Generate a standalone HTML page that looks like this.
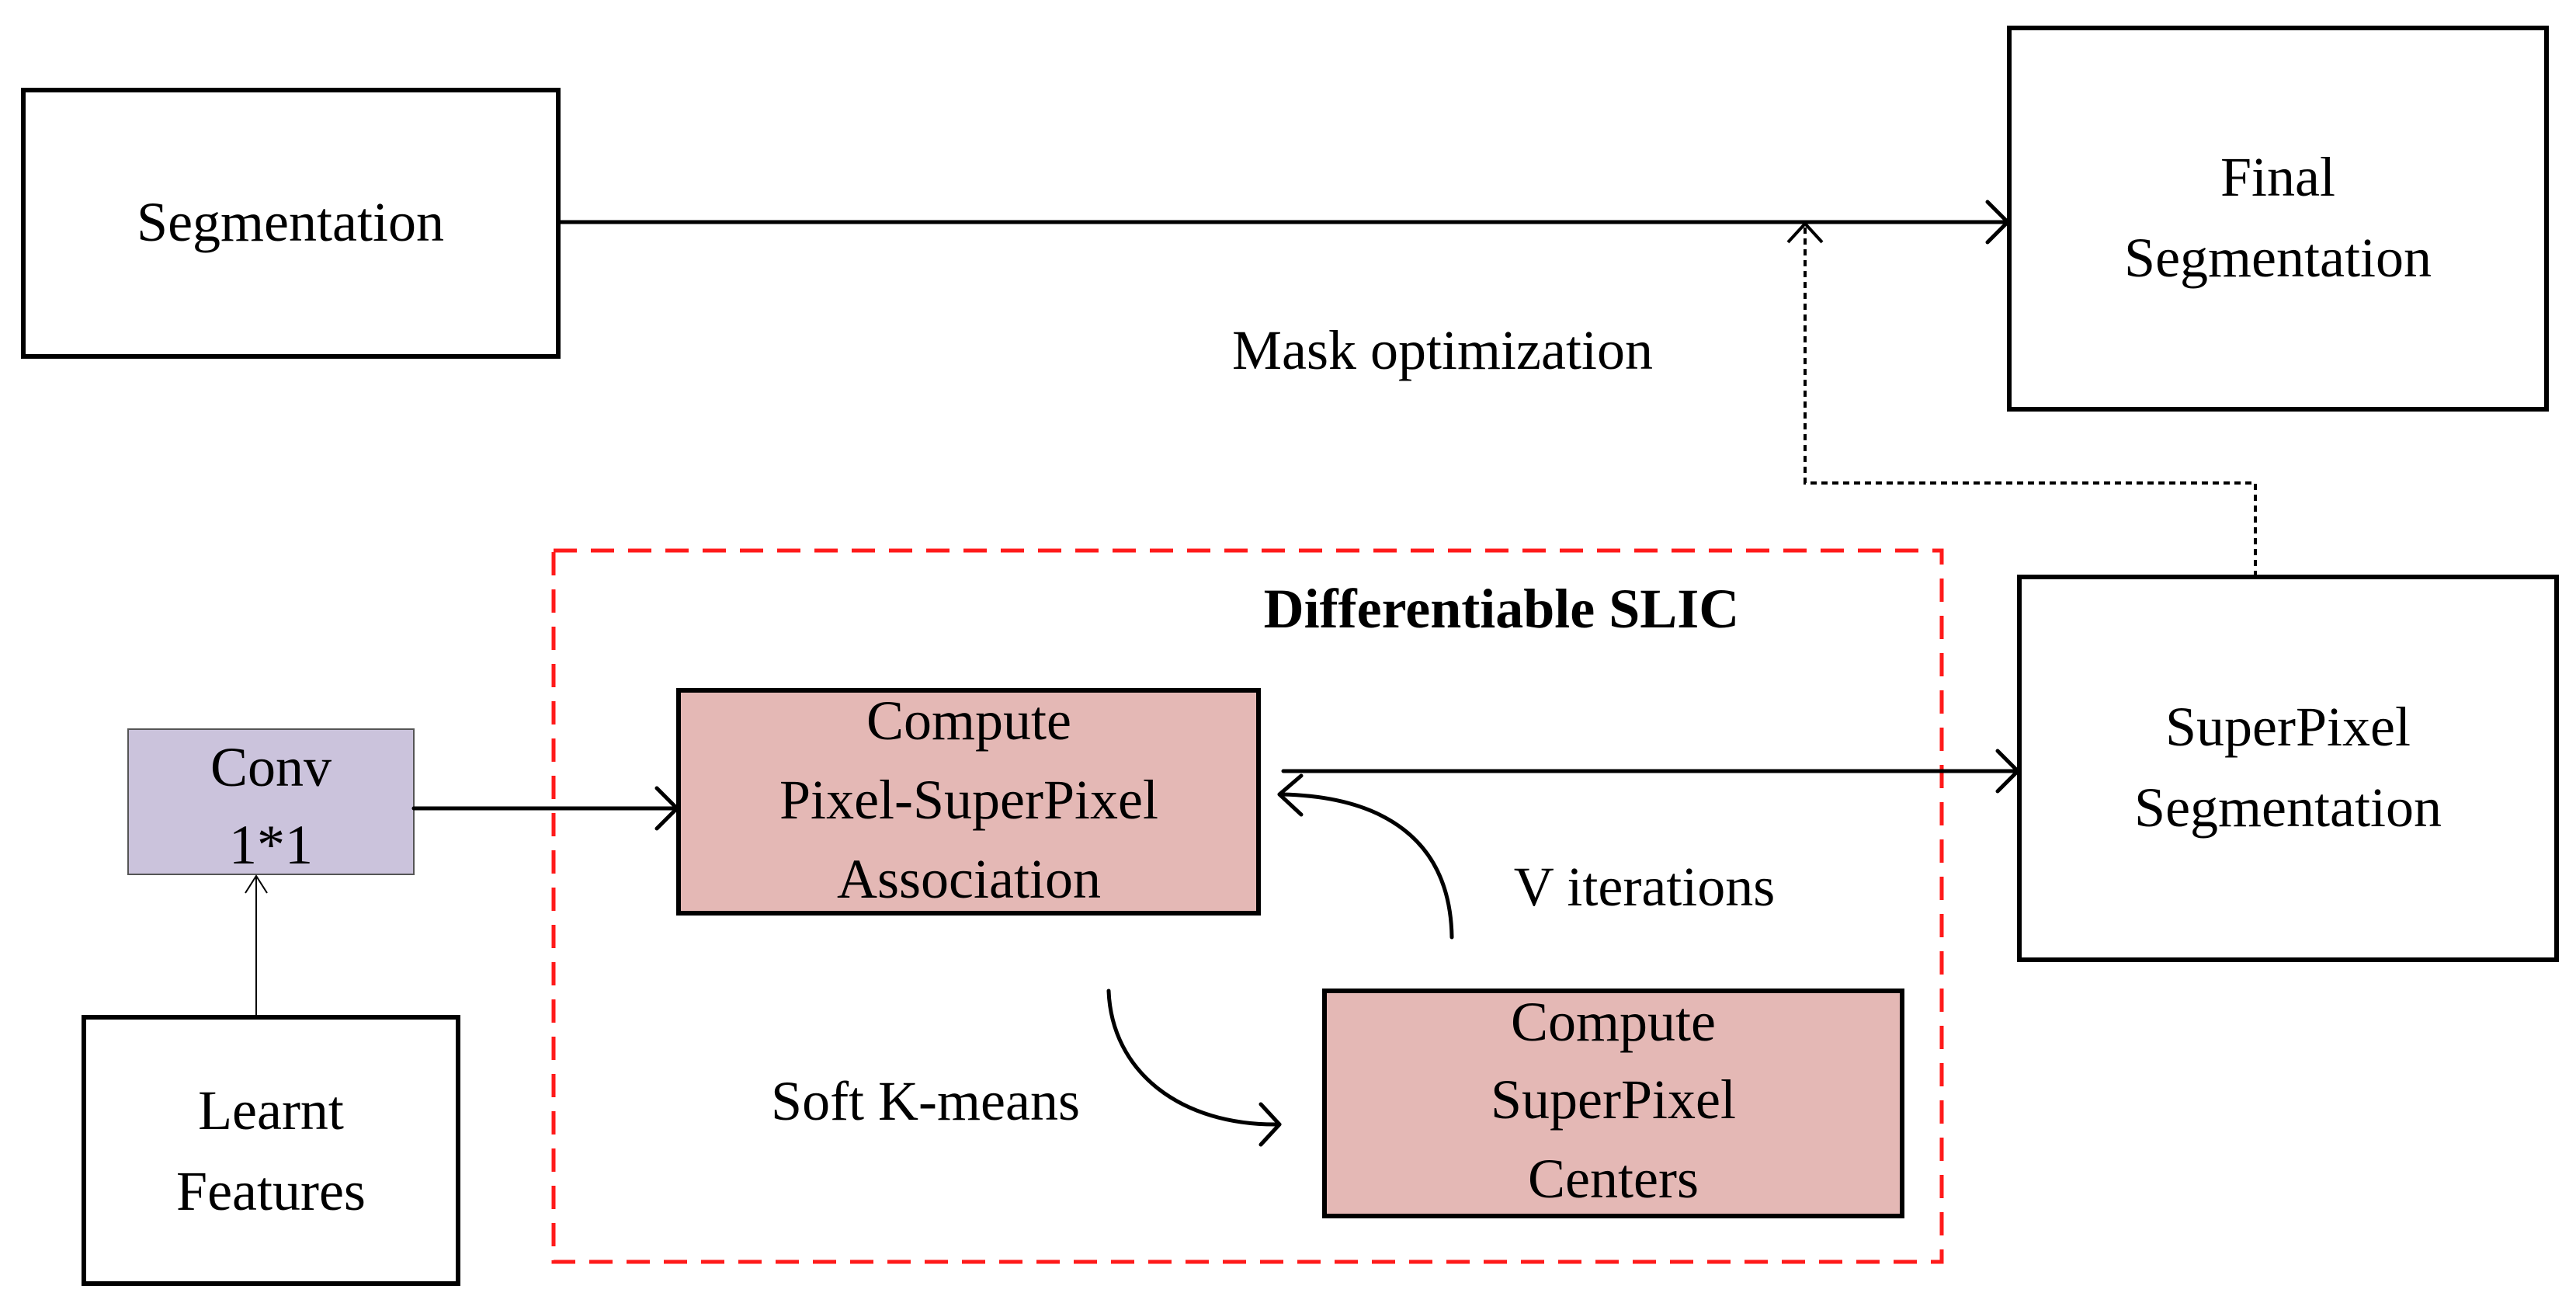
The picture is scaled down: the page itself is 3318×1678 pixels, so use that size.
<!DOCTYPE html>
<html><head><style>
html,body{margin:0;padding:0;background:#fff;}
svg{display:block;}
text{font-family:"Liberation Serif",serif;fill:#000;}
</style></head><body>
<svg width="3318" height="1678" viewBox="0 0 3318 1678" xmlns="http://www.w3.org/2000/svg">
<g stroke="#000" stroke-width="6" fill="#fff">
<rect x="30" y="116" width="689" height="343"/>
<rect x="2588" y="36" width="692" height="491"/>
<rect x="2601" y="743" width="692" height="493"/>
<rect x="108" y="1310" width="482" height="343"/>
<rect x="874" y="889" width="747" height="287" fill="#e4b8b5"/>
<rect x="1706" y="1276" width="744" height="290" fill="#e4b8b5"/>
</g>
<rect x="165" y="939" width="368" height="187" fill="#cbc3dc" stroke="#555" stroke-width="2"/>
<rect x="713" y="709" width="1788" height="916" fill="none" stroke="#ff1a1a" stroke-width="5" stroke-dasharray="30,18"/>
<g stroke="#000" stroke-width="5" fill="none" stroke-linecap="round" stroke-linejoin="round">
<line x1="719" y1="286" x2="2586" y2="286"/>
<polyline points="2560,260 2586,286 2560,312"/>
<line x1="533" y1="1041" x2="872" y2="1041"/>
<polyline points="846,1015 872,1041 846,1067"/>
<line x1="1653" y1="993" x2="2599" y2="993"/>
<polyline points="2573,967 2599,993 2573,1019"/>
<path d="M1870,1207 C1868,1080 1780,1025 1648,1023"/>
<polyline points="1676,999 1648,1023 1676,1049"/>
<path d="M1428,1276 C1432,1380 1520,1450 1648,1448"/>
<polyline points="1624,1422 1648,1448 1624,1474"/>
</g>
<g stroke="#000" stroke-width="4" fill="none" stroke-dasharray="8,6">
<polyline points="2905,743 2905,622 2325,622 2325,290"/>
</g>
<polyline points="2303,312 2325,288 2347,312" stroke="#000" stroke-width="4" fill="none"/>
<line x1="330" y1="1310" x2="330" y2="1128" stroke="#000" stroke-width="2"/>
<polyline points="316,1150 330,1128 344,1150" stroke="#000" stroke-width="2" fill="none"/>
<g font-size="72" text-anchor="middle">
<text x="374" y="310">Segmentation</text>
<text x="2934" y="252">Final</text>
<text x="2934" y="356">Segmentation</text>
<text x="2947" y="960">SuperPixel</text>
<text x="2947" y="1064">Segmentation</text>
<text x="349" y="1012">Conv</text>
<text x="349" y="1112">1*1</text>
<text x="349" y="1454">Learnt</text>
<text x="349" y="1558">Features</text>
<text x="1248" y="952">Compute</text>
<text x="1248" y="1054">Pixel-SuperPixel</text>
<text x="1248" y="1156">Association</text>
<text x="2078" y="1340">Compute</text>
<text x="2078" y="1440">SuperPixel</text>
<text x="2078" y="1542">Centers</text>
<text x="1858" y="475">Mask optimization</text>
<text x="2118" y="1166">V iterations</text>
<text x="1192" y="1442">Soft K-means</text>
<text x="1934" y="808" font-weight="bold">Differentiable SLIC</text>
</g>
</svg>
</body></html>
